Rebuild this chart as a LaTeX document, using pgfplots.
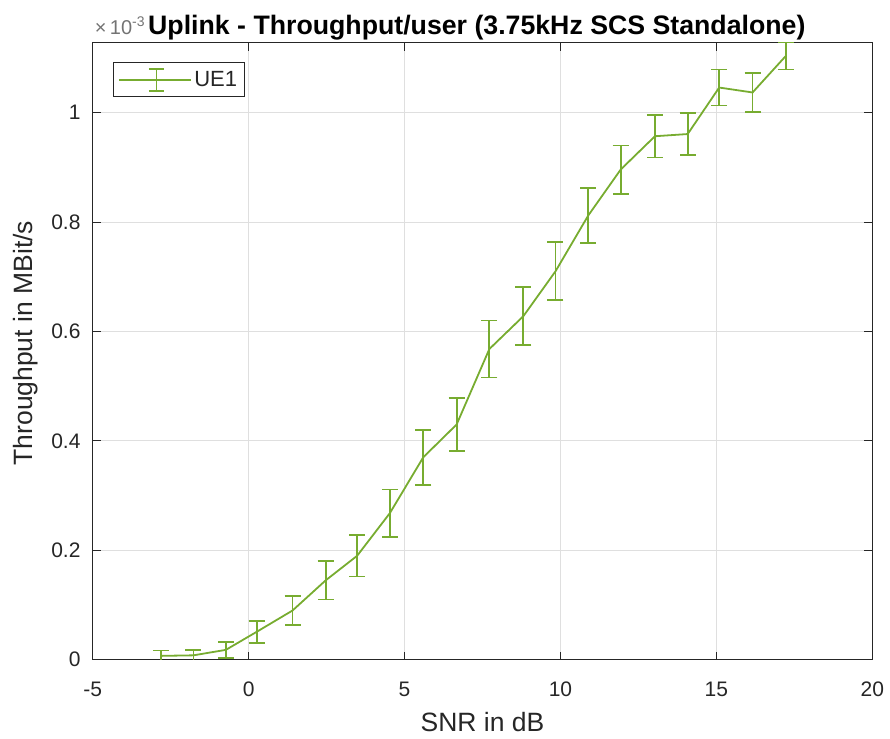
\documentclass[border=0pt]{standalone}
\usepackage{pgfplots}
\pgfplotsset{compat=1.18}
\usepackage{pgfplotstable}
\usepackage{fontspec}
\setmainfont{Liberation Sans}
\definecolor{ue}{RGB}{119,172,48}
\definecolor{axc}{RGB}{38,38,38}
\definecolor{gridc}{RGB}{223,223,223}

\pgfplotstableread{
x y e
-2.81 0.007 0.010
-1.77 0.008 0.010
-0.73 0.018 0.015
0.26 0.051 0.020
1.41 0.090 0.026
2.47 0.145 0.035
3.48 0.190 0.038
4.53 0.268 0.043
5.60 0.370 0.050
6.67 0.430 0.049
7.72 0.568 0.052
8.81 0.628 0.053
9.84 0.710 0.053
10.89 0.812 0.050
11.93 0.896 0.044
13.03 0.957 0.039
14.08 0.961 0.039
15.09 1.046 0.033
16.16 1.037 0.036
17.23 1.104 0.025
}\data

\begin{document}
\begin{tikzpicture}
\begin{axis}[
  scale only axis,
  width=779.6pt, height=617pt,
  xmin=-5, xmax=20, ymin=0, ymax=1.128,
  xtick={-5,0,5,10,15,20},
  ytick={0,0.2,0.4,0.6,0.8,1},
  yticklabels={0,0.2,0.4,0.6,0.8,1},
  scaled y ticks=false,
  /pgf/number format/assume math mode=true,
  tick align=inside,
  major tick length=8pt,
  tick style={axc, line width=1pt},
  axis line style={axc, line width=1.3pt},
  grid=major,
  major grid style={gridc, line width=1pt},
  ticklabel style={font=\fontsize{21}{25}\selectfont, text=axc},
  xticklabel style={anchor=base, yshift=-36.5pt},
  yticklabel style={anchor=east, inner sep=0pt, xshift=-12pt},
  xlabel={SNR in dB},
  ylabel={Throughput in MBit/s},
  label style={font=\fontsize{26.5}{30}\selectfont, text=axc},
  xlabel style={at={(axis description cs:0.5,0)}, anchor=base, yshift=-71.5pt},
  ylabel style={at={(axis description cs:-0.0766,0.513)}, anchor=base},
  legend style={at={(0.0254,0.968)}, anchor=north west, draw=axc, line width=1pt,
    fill=white, font=\fontsize{22}{26}\selectfont, text=axc,
    inner xsep=5.5pt, inner ysep=5pt},
  legend cell align=left,
  legend image code/.code={
    \draw[ue, line width=1.8pt] (0pt,0pt) -- (72pt,0pt);
    \draw[ue, line width=1.8pt] (37pt,-11pt) -- (37pt,11pt)
      (29.5pt,11pt) -- (44.5pt,11pt) (29.5pt,-11pt) -- (44.5pt,-11pt);
  },
]
\addplot[ue, line width=1.8pt, mark=none,
  error bars/.cd, y dir=both, y explicit,
  error bar style={draw=ue, line width=1.8pt},
  error mark options={draw=ue, rotate=90, mark size=8pt, line width=1.8pt}]
  table[x=x, y=y, y error=e] {\data};
\addlegendentry{UE1}
\end{axis}
\node[anchor=base west, font=\bfseries\fontsize{26.7}{30}\selectfont, text=black, inner sep=0pt]
  at ([xshift=55.3pt, yshift=7.7pt]current axis.north west) {Uplink - Throughput/user (3.75kHz SCS Standalone)};
\node[anchor=base west, font=\fontsize{20}{24}\selectfont, text=black!55, inner sep=0pt]
  at ([xshift=2pt, yshift=7.7pt]current axis.north west) {×\,10\raisebox{8pt}{\fontsize{14}{16}\selectfont -3}};
\pgfresetboundingbox
\path[use as bounding box] ([shift={(-92.7pt,-78.5pt)}]current axis.south west) rectangle ([shift={(17.7pt,42.7pt)}]current axis.north east);
\end{tikzpicture}
\end{document}
